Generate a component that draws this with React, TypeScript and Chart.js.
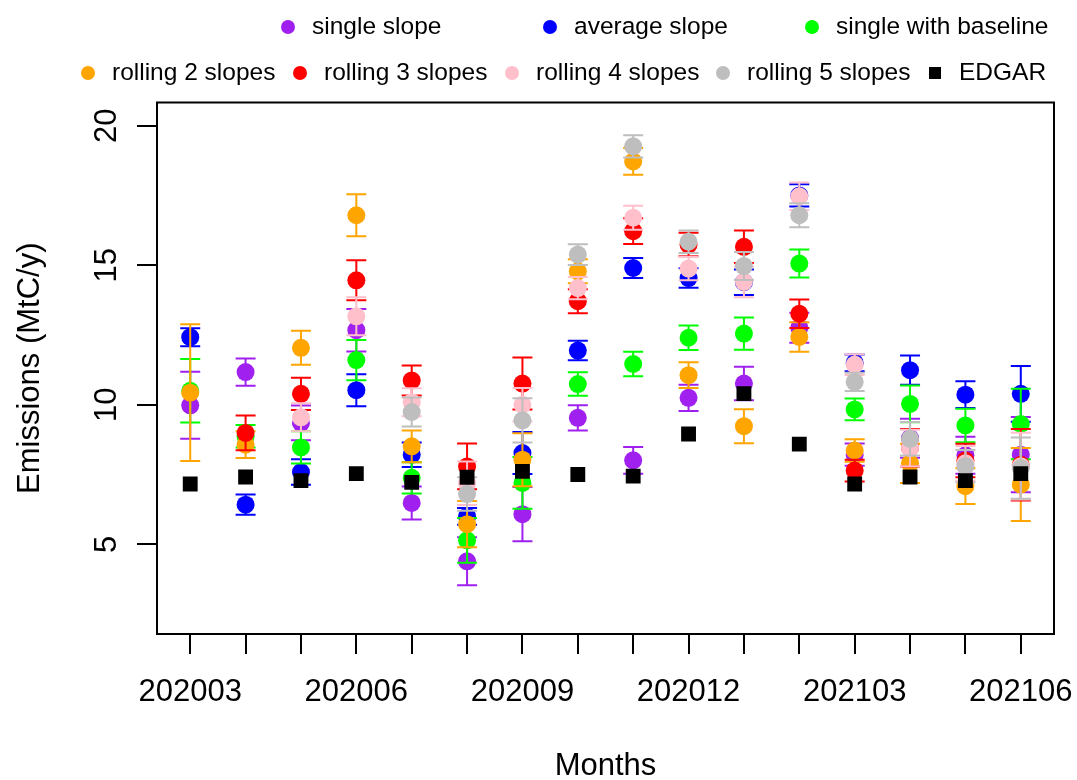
import React, { useEffect, useRef } from "react";
import { Chart, registerables } from "chart.js";

Chart.register(...registerables);

const FONT = "'Liberation Sans', Arial, Helvetica, sans-serif";

// Months on the x axis (1..16); only every third one carries a label
const months = [
  "202003", "202004", "202005", "202006", "202007", "202008", "202009", "202010",
  "202011", "202012", "202101", "202102", "202103", "202104", "202105", "202106",
];
const labeledMonths = ["202003", "202006", "202009", "202012", "202103", "202106"];
const yTicks = [5, 10, 15, 20];

// Estimated emissions (MtC/y) and their half error-bar widths, per method
const singleSlope = [9.98, 11.17, 9.35, 12.67, 6.48, 4.39, 6.08, 9.53, 8.01, 10.25, 10.76, 12.76, 8.21, 8.8, 8.19, 8.21];
const singleSlopeErr = [1.2, 0.49, 0.62, 0.76, 0.59, 0.86, 0.97, 0.45, 0.48, 0.47, 0.6, 0.54, 0.4, 0.7, 0.66, 1.35];

const averageSlope = [12.42, 6.42, 7.59, 10.52, 8.21, 6.0, 8.27, 11.94, 14.9, 14.54, 14.39, 17.5, 11.5, 11.24, 10.36, 10.39];
const averageSlopeErr = [0.32, 0.36, 0.46, 0.57, 0.44, 0.3, 0.75, 0.35, 0.36, 0.35, 0.46, 0.4, 0.3, 0.52, 0.48, 1.0];

const singleBaseline = [10.5, 8.87, 8.47, 11.6, 7.38, 5.14, 7.2, 10.74, 11.46, 12.4, 12.55, 15.06, 9.83, 10.03, 9.26, 9.31];
const singleBaselineErr = [1.14, 0.4, 0.58, 0.72, 0.56, 0.8, 0.93, 0.42, 0.44, 0.44, 0.58, 0.5, 0.39, 0.66, 0.6, 1.26];

const rolling2 = [10.43, 8.57, 12.04, 16.79, 8.51, 5.72, 8.03, 14.78, 18.72, 11.06, 9.23, 12.43, 8.36, 7.9, 7.08, 7.14];
const rolling2Err = [2.45, 0.48, 0.61, 0.75, 0.57, 0.83, 0.95, 0.43, 0.48, 0.46, 0.61, 0.53, 0.4, 0.7, 0.64, 1.31];

const rolling3 = [null, 8.99, 10.39, 14.46, 10.87, 7.79, 10.76, 13.71, 16.22, 15.74, 15.66, 13.26, 7.64, 8.46, 8.0, 7.85];
const rolling3Err = [null, 0.62, 0.58, 0.72, 0.54, 0.82, 0.93, 0.43, 0.46, 0.42, 0.58, 0.51, 0.39, 0.67, 0.6, 1.28];

const rolling4 = [null, null, 9.55, 13.17, 10.09, 7.19, 10.0, 14.18, 16.7, 14.88, 14.4, 17.47, 11.44, 8.45, 7.9, 7.8];
const rolling4Err = [null, null, 0.5, 0.68, 0.5, 0.78, 0.6, 0.4, 0.43, 0.42, 0.55, 0.49, 0.37, 0.65, 0.62, 1.2];

const rolling5 = [null, null, null, null, 9.74, 6.8, 9.44, 15.38, 19.26, 15.84, 14.97, 16.79, 10.82, 8.78, 7.8, 7.73];
const rolling5Err = [null, null, null, null, 0.52, 0.6, 0.79, 0.37, 0.4, 0.4, 0.5, 0.43, 0.33, 0.6, 0.58, 1.1];

const edgar = [7.16, 7.41, 7.28, 7.53, 7.22, 7.4, 7.61, 7.5, 7.44, 8.95, 10.4, 8.59, 7.16, 7.41, 7.28, 7.53];

const series = [
  { label: "single slope", color: "#A020F0", values: singleSlope, errors: singleSlopeErr },
  { label: "average slope", color: "#0000FF", values: averageSlope, errors: averageSlopeErr },
  { label: "single with baseline", color: "#00FF00", values: singleBaseline, errors: singleBaselineErr },
  { label: "rolling 2 slopes", color: "#FFA500", values: rolling2, errors: rolling2Err },
  { label: "rolling 3 slopes", color: "#FF0000", values: rolling3, errors: rolling3Err },
  { label: "rolling 4 slopes", color: "#FFC0CB", values: rolling4, errors: rolling4Err },
  { label: "rolling 5 slopes", color: "#BEBEBE", values: rolling5, errors: rolling5Err },
  { label: "EDGAR", color: "#000000", values: edgar, errors: null },
];

// Legend rows: [series index, marker x]
const legendRow1 = [[0, 288], [1, 550], [2, 812]];
const legendRow2 = [[3, 88], [4, 300], [5, 512], [6, 723], [7, 935]];

const errorBarPlugin = {
  id: "errorBars",
  beforeDatasetDraw(chart: any, args: any) {
    const ds = chart.data.datasets[args.index];
    if (!ds.hasErrors) return;
    const { ctx } = chart;
    const xs = chart.scales.x;
    const ys = chart.scales.y;
    ctx.save();
    ctx.strokeStyle = ds.backgroundColor;
    ctx.lineWidth = 2;
    for (const p of ds.data) {
      if (p.err == null) continue;
      const x = xs.getPixelForValue(p.x);
      const yLo = ys.getPixelForValue(p.y - p.err);
      const yHi = ys.getPixelForValue(p.y + p.err);
      ctx.beginPath();
      ctx.moveTo(x, yLo);
      ctx.lineTo(x, yHi);
      ctx.moveTo(x - 10, yLo);
      ctx.lineTo(x + 10, yLo);
      ctx.moveTo(x - 10, yHi);
      ctx.lineTo(x + 10, yHi);
      ctx.stroke();
    }
    ctx.restore();
  },
};

const decorPlugin = {
  id: "decor",
  afterDraw(chart: any) {
    const { ctx, chartArea } = chart;
    const ys = chart.scales.y;
    ctx.save();
    // plot frame
    ctx.strokeStyle = "#000";
    ctx.lineWidth = 2;
    ctx.strokeRect(chartArea.left, chartArea.top, chartArea.right - chartArea.left, chartArea.bottom - chartArea.top);

    // y tick labels, written along the axis
    ctx.fillStyle = "#000";
    ctx.font = `31px ${FONT}`;
    ctx.textAlign = "center";
    ctx.textBaseline = "middle";
    for (const t of ys.ticks) {
      const y = ys.getPixelForValue(t.value);
      ctx.save();
      ctx.translate(107, y);
      ctx.rotate(-Math.PI / 2);
      ctx.fillText(String(t.value), 0, 0);
      ctx.restore();
    }

    // axis titles
    ctx.fillText("Months", (chartArea.left + chartArea.right) / 2, 766);
    ctx.save();
    ctx.translate(30, (chartArea.top + chartArea.bottom) / 2);
    ctx.rotate(-Math.PI / 2);
    ctx.fillText("Emissions (MtC/y)", 0, 0);
    ctx.restore();

    // legend
    ctx.font = `24.5px ${FONT}`;
    ctx.textAlign = "left";
    const drawItem = (idx: number, x: number, y: number) => {
      const s = series[idx];
      ctx.fillStyle = s.color;
      if (s.errors) {
        ctx.beginPath();
        ctx.arc(x, y, 7, 0, Math.PI * 2);
        ctx.fill();
      } else {
        ctx.fillRect(x - 6, y - 6, 12, 12);
      }
      ctx.fillStyle = "#000";
      ctx.fillText(s.label, x + 24, y);
    };
    for (const [i, x] of legendRow1) drawItem(i, x, 27);
    for (const [i, x] of legendRow2) drawItem(i, x, 73);
    ctx.restore();
  },
};

export default function App() {
  const canvasRef = useRef<HTMLCanvasElement | null>(null);

  useEffect(() => {
    if (!canvasRef.current) return;
    const datasets = series.map((s, i) => ({
      label: s.label,
      data: s.values
        .map((v, k) => (v == null ? null : { x: k + 1, y: v, err: s.errors ? s.errors[k] : null }))
        .filter((p) => p !== null),
      hasErrors: !!s.errors,
      backgroundColor: s.color,
      borderColor: s.color,
      pointBackgroundColor: s.color,
      pointBorderWidth: 0,
      pointRadius: s.errors ? 9 : 10.5,
      pointHoverRadius: s.errors ? 9 : 10.5,
      pointStyle: s.errors ? "circle" : "rect",
      showLine: false,
      order: series.length - i,
    }));

    const chart = new Chart(canvasRef.current, {
      type: "scatter",
      data: { datasets: datasets as any },
      plugins: [errorBarPlugin, decorPlugin],
      options: {
        animation: false,
        responsive: false,
        layout: { padding: { left: 0, right: 23, top: 102.5, bottom: 0 } },
        plugins: { legend: { display: false }, tooltip: { enabled: false } },
        scales: {
          x: {
            type: "linear",
            min: 0.4,
            max: 16.6,
            afterBuildTicks: (scale: any) => {
              scale.ticks = months.map((_, i) => ({ value: i + 1 }));
            },
            afterFit: (scale: any) => {
              scale.height = 146;
              scale.paddingLeft = 0;
              scale.paddingRight = 0;
            },
            grid: { drawOnChartArea: false, drawTicks: true, tickLength: 20, color: "#000", lineWidth: 2 },
            border: { display: false },
            ticks: {
              autoSkip: false,
              maxRotation: 0,
              minRotation: 0,
              padding: 20,
              color: "#000",
              font: { family: FONT, size: 31 },
              callback: (value: any) => {
                const m = months[Math.round(Number(value)) - 1];
                return labeledMonths.includes(m) ? m : "";
              },
            },
          },
          y: {
            type: "linear",
            min: 1.785,
            max: 20.83,
            afterBuildTicks: (scale: any) => {
              scale.ticks = yTicks.map((v) => ({ value: v }));
            },
            afterFit: (scale: any) => {
              scale.width = 157;
              scale.paddingTop = 0;
              scale.paddingBottom = 0;
            },
            grid: { drawOnChartArea: false, drawTicks: true, tickLength: 20, color: "#000", lineWidth: 2 },
            border: { display: false },
            ticks: { display: false },
          },
        },
      },
    });
    return () => chart.destroy();
  }, []);

  return (
    <div style={{ position: "fixed", left: 0, top: 0, width: 1077, height: 780, background: "#fff" }}>
      <canvas ref={canvasRef} width={1077} height={780} style={{ display: "block" }} />
    </div>
  );
}
